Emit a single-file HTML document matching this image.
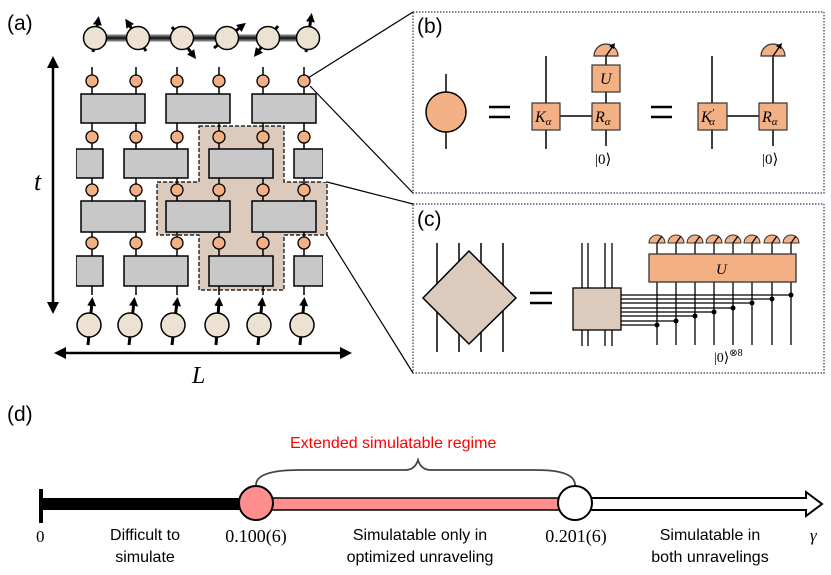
<!DOCTYPE html>
<html><head><meta charset="utf-8"><style>
html,body{margin:0;padding:0;background:#fff}
svg{display:block}
.s{font-family:"Liberation Sans",sans-serif}
.m{font-family:"Liberation Serif",serif;font-style:italic}
.r{font-family:"Liberation Serif",serif}
</style></head><body>
<svg width="831" height="575" viewBox="0 0 831 575" xmlns="http://www.w3.org/2000/svg">
<defs>
<marker id="ah" markerWidth="9" markerHeight="9" refX="4" refY="4.5" orient="auto" markerUnits="userSpaceOnUse" viewBox="0 0 9 9"><path d="M0,0 L9,4.5 L0,9 z" fill="#000"/></marker>
</defs>
<!-- (a) -->
<text x="7" y="30" class="s" font-size="21">(a)</text>
<line x1="95" y1="38" x2="308" y2="38" stroke="#777" stroke-width="7"/>
<line x1="95" y1="38" x2="308" y2="38" stroke="#222" stroke-width="3"/>
<g stroke="#000" stroke-width="3">
<line x1="93" y1="52" x2="98" y2="21" marker-end="url(#ah)"/>
<line x1="146" y1="51" x2="128" y2="23" marker-end="url(#ah)"/>
<line x1="172" y1="27" x2="193" y2="55" marker-end="url(#ah)"/>
<line x1="214" y1="48" x2="242" y2="26" marker-end="url(#ah)"/>
<line x1="278" y1="26" x2="257" y2="53" marker-end="url(#ah)"/>
<line x1="306" y1="52" x2="311" y2="18" marker-end="url(#ah)"/>
</g>
<g fill="#ede1d2" stroke="#000" stroke-width="1.5">
<circle cx="95" cy="38" r="11.5"/><circle cx="138" cy="38" r="11.5"/><circle cx="182" cy="38" r="11.5"/><circle cx="227" cy="38" r="11.5"/><circle cx="268" cy="38" r="11.5"/><circle cx="308" cy="38" r="11.5"/>
</g>
<path d="M199,126 H284 V182 H327 V235 H284 V290 H199 V235 H157 V182 H199 Z" fill="#dccbbd" stroke="#000" stroke-width="1.2" stroke-dasharray="4,2"/>
<g stroke="#000" stroke-width="1.5">
<line x1="92" y1="67" x2="92" y2="295"/><line x1="136" y1="67" x2="136" y2="295"/><line x1="177" y1="67" x2="177" y2="295"/><line x1="219" y1="67" x2="219" y2="295"/><line x1="263" y1="67" x2="263" y2="295"/><line x1="304" y1="67" x2="304" y2="295"/>
</g>
<g fill="#c8c8c8" stroke="#000" stroke-width="1.5">
<rect x="81" y="94" width="64" height="29"/><rect x="166" y="94" width="64" height="29"/><rect x="252" y="94" width="64" height="29"/>
<rect x="76" y="149" width="27" height="29"/><rect x="124" y="149" width="64" height="29"/><rect x="209" y="149" width="64" height="29"/><rect x="294" y="149" width="29" height="29"/>
<rect x="81" y="201" width="64" height="31"/><rect x="166" y="201" width="64" height="31"/><rect x="252" y="201" width="64" height="31"/>
<rect x="76" y="256" width="27" height="30"/><rect x="124" y="256" width="64" height="30"/><rect x="209" y="256" width="64" height="30"/><rect x="294" y="256" width="29" height="30"/>
</g>
<g fill="#fff"><rect x="70" y="145" width="6" height="40"/><rect x="323" y="145" width="3" height="37"/><rect x="70" y="252" width="6" height="40"/><rect x="323" y="252" width="8" height="40"/></g>
<g fill="#f3b085" stroke="#000" stroke-width="1.3">
<circle cx="92" cy="81" r="6"/><circle cx="136" cy="81" r="6"/><circle cx="177" cy="81" r="6"/><circle cx="219" cy="81" r="6"/><circle cx="263" cy="81" r="6"/><circle cx="304" cy="81" r="6"/>
<circle cx="92" cy="137" r="6"/><circle cx="136" cy="137" r="6"/><circle cx="177" cy="137" r="6"/><circle cx="219" cy="137" r="6"/><circle cx="263" cy="137" r="6"/><circle cx="304" cy="137" r="6"/>
<circle cx="92" cy="190" r="6"/><circle cx="136" cy="190" r="6"/><circle cx="177" cy="190" r="6"/><circle cx="219" cy="190" r="6"/><circle cx="263" cy="190" r="6"/><circle cx="304" cy="190" r="6"/>
<circle cx="92" cy="243" r="6"/><circle cx="136" cy="243" r="6"/><circle cx="177" cy="243" r="6"/><circle cx="219" cy="243" r="6"/><circle cx="263" cy="243" r="6"/><circle cx="304" cy="243" r="6"/>
</g>
<g stroke="#000" stroke-width="3">
<line x1="88" y1="345" x2="92" y2="302" marker-end="url(#ah)"/><line x1="129" y1="345" x2="134" y2="302" marker-end="url(#ah)"/><line x1="172" y1="345" x2="177" y2="302" marker-end="url(#ah)"/><line x1="216" y1="345" x2="219" y2="302" marker-end="url(#ah)"/><line x1="258" y1="345" x2="262" y2="302" marker-end="url(#ah)"/><line x1="300" y1="345" x2="304" y2="302" marker-end="url(#ah)"/>
</g>
<g fill="#ede1d2" stroke="#000" stroke-width="1.5">
<circle cx="89" cy="325" r="12"/><circle cx="130" cy="325" r="12"/><circle cx="173" cy="325" r="12"/><circle cx="217" cy="325" r="12"/><circle cx="259" cy="325" r="12"/><circle cx="302" cy="325" r="12"/>
</g>
<line x1="53" y1="66" x2="53" y2="304" stroke="#000" stroke-width="2.5"/>
<path d="M53,56 L47,68 L59,68 Z M53,314 L47,302 L59,302 Z"/>
<text x="34" y="190" class="m" font-size="26">t</text>
<line x1="64" y1="353" x2="342" y2="353" stroke="#000" stroke-width="2.5"/>
<path d="M54,353 L66,347 L66,359 Z M352,353 L340,347 L340,359 Z"/>
<text x="192" y="383" class="m" font-size="24">L</text>
<g stroke="#000" stroke-width="1.2">
<line x1="308" y1="78" x2="413" y2="12"/><line x1="310" y1="86" x2="413" y2="193"/>
<line x1="327" y1="182" x2="413" y2="204"/><line x1="327" y1="235" x2="413" y2="373"/>
</g>
<!-- (b) -->
<rect x="413" y="12" width="411" height="181" fill="none" stroke="#2a3a5a" stroke-width="1.2" stroke-dasharray="1.5,1.5"/>
<text x="417" y="33" class="s" font-size="21">(b)</text>
<line x1="446" y1="74" x2="446" y2="149" stroke="#000" stroke-width="1.5"/>
<circle cx="446" cy="112" r="20" fill="#f3b085" stroke="#000" stroke-width="1.5"/>
<g stroke="#000" stroke-width="2.5"><line x1="489" y1="107" x2="510" y2="107"/><line x1="489" y1="117" x2="510" y2="117"/><line x1="651" y1="107" x2="672" y2="107"/><line x1="651" y1="117" x2="672" y2="117"/></g>
<g stroke="#000" stroke-width="1.5">
<line x1="546" y1="56" x2="546" y2="149"/><line x1="560" y1="116" x2="592" y2="116"/><line x1="606" y1="52" x2="606" y2="146"/>
<line x1="712" y1="56" x2="712" y2="149"/><line x1="727" y1="116" x2="759" y2="116"/><line x1="773" y1="52" x2="773" y2="146"/>
</g>
<g fill="#f3b085" stroke="#333" stroke-width="1.2">
<rect x="532" y="103" width="28" height="27"/><rect x="592" y="103" width="28" height="27"/><rect x="592" y="65" width="28" height="27"/>
<rect x="698" y="103" width="29" height="27"/><rect x="759" y="103" width="28" height="27"/>
<path d="M594,56 A12,12 0 0 1 618,56 Z"/><path d="M761,56 A12,12 0 0 1 785,56 Z"/>
</g>
<g stroke="#000" stroke-width="1.3"><line x1="606" y1="56" x2="613" y2="46"/><line x1="773" y1="56" x2="780" y2="46"/></g>
<path d="M615,43 L609,46 L614,49 Z M782,43 L776,46 L781,49 Z"/>
<g class="m" font-size="16"><text x="535" y="122">K<tspan font-size="11" dy="3">α</tspan></text><text x="595" y="122">R<tspan font-size="11" dy="3">α</tspan></text><text x="600" y="84">U</text>
<text x="701" y="122">K<tspan font-size="11" dy="-6">′</tspan><tspan font-size="11" dx="-5" dy="9">α</tspan></text><text x="762" y="122">R<tspan font-size="11" dy="3">α</tspan></text></g>
<text x="595" y="164" class="r" font-size="15">|0⟩</text><text x="762" y="164" class="r" font-size="15">|0⟩</text>
<!-- (c) -->
<rect x="413" y="204" width="411" height="169" fill="none" stroke="#2a3a5a" stroke-width="1.2" stroke-dasharray="1.5,1.5"/>
<text x="417" y="226" class="s" font-size="21">(c)</text>
<g stroke="#000" stroke-width="1.5"><line x1="437" y1="243" x2="437" y2="352"/><line x1="459" y1="243" x2="459" y2="352"/><line x1="481" y1="243" x2="481" y2="352"/><line x1="503" y1="243" x2="503" y2="352"/></g>
<path d="M469,251 L516,298 L469,344 L423,298 Z" fill="#dccbbd" stroke="#000" stroke-width="1.5"/>
<g stroke="#000" stroke-width="2.5"><line x1="530" y1="293" x2="552" y2="293"/><line x1="530" y1="303" x2="552" y2="303"/></g>
<g stroke="#000" stroke-width="1.3"><line x1="582" y1="243" x2="582" y2="346"/><line x1="588" y1="243" x2="588" y2="346"/><line x1="605" y1="243" x2="605" y2="346"/><line x1="612" y1="243" x2="612" y2="346"/></g>
<rect x="573" y="288" width="48" height="42" fill="#dccbbd" stroke="#000" stroke-width="1.3"/>
<g stroke="#000" stroke-width="1.3">
<line x1="657" y1="240" x2="657" y2="345"/><line x1="676" y1="240" x2="676" y2="345"/><line x1="695" y1="240" x2="695" y2="345"/><line x1="714" y1="240" x2="714" y2="345"/><line x1="733" y1="240" x2="733" y2="345"/><line x1="752" y1="240" x2="752" y2="345"/><line x1="772" y1="240" x2="772" y2="345"/><line x1="791" y1="240" x2="791" y2="345"/>
<line x1="621" y1="295" x2="791" y2="295"/><line x1="621" y1="299" x2="772" y2="299"/><line x1="621" y1="303" x2="752" y2="303"/><line x1="621" y1="308" x2="733" y2="308"/><line x1="621" y1="312" x2="714" y2="312"/><line x1="621" y1="316" x2="695" y2="316"/><line x1="621" y1="321" x2="676" y2="321"/><line x1="621" y1="325" x2="657" y2="325"/>
</g>
<g fill="#000"><circle cx="791" cy="295" r="2.5"/><circle cx="772" cy="299" r="2.5"/><circle cx="752" cy="303" r="2.5"/><circle cx="733" cy="308" r="2.5"/><circle cx="714" cy="312" r="2.5"/><circle cx="695" cy="316" r="2.5"/><circle cx="676" cy="321" r="2.5"/><circle cx="657" cy="325" r="2.5"/></g>
<rect x="649" y="254" width="147" height="28" fill="#f3b085" stroke="#333" stroke-width="1.3"/>
<text x="716" y="274" class="m" font-size="15">U</text>
<g fill="#f3b085" stroke="#333" stroke-width="1">
<path d="M649,243 A8,8 0 0 1 665,243 Z"/><path d="M668,243 A8,8 0 0 1 684,243 Z"/><path d="M687,243 A8,8 0 0 1 703,243 Z"/><path d="M706,243 A8,8 0 0 1 722,243 Z"/><path d="M725,243 A8,8 0 0 1 741,243 Z"/><path d="M744,243 A8,8 0 0 1 760,243 Z"/><path d="M764,243 A8,8 0 0 1 780,243 Z"/><path d="M783,243 A8,8 0 0 1 799,243 Z"/>
</g>
<g stroke="#000" stroke-width="1.2"><line x1="657" y1="243" x2="662" y2="236"/><line x1="676" y1="243" x2="681" y2="236"/><line x1="695" y1="243" x2="700" y2="236"/><line x1="714" y1="243" x2="719" y2="236"/><line x1="733" y1="243" x2="738" y2="236"/><line x1="752" y1="243" x2="757" y2="236"/><line x1="772" y1="243" x2="777" y2="236"/><line x1="791" y1="243" x2="796" y2="236"/></g>
<text x="714" y="362" class="r" font-size="14">|0⟩<tspan font-size="10" dy="-6">⊗8</tspan></text>
<!-- (d) -->
<text x="7" y="421" class="s" font-size="21">(d)</text>
<text x="290" y="448" class="s" font-size="16" fill="#ff0000">Extended simulatable regime</text>
<path d="M256,485 Q256,470 300,470 L405,470 Q415,470 418,460 Q421,470 431,470 L536,470 Q575,470 575,485" fill="none" stroke="#444" stroke-width="1.8"/>
<line x1="41" y1="489" x2="41" y2="523" stroke="#000" stroke-width="4"/>
<rect x="41" y="498" width="215" height="12" fill="#000"/>
<rect x="256" y="498" width="319" height="12" fill="#ff8e8e" stroke="#000" stroke-width="1.5"/>
<path d="M575,498 H806 V492 L822,504 L806,516 V510 H575 Z" fill="#fff" stroke="#000" stroke-width="2"/>
<circle cx="256" cy="503" r="17" fill="#ff8e8e" stroke="#000" stroke-width="2"/>
<circle cx="575" cy="503" r="17" fill="#fff" stroke="#000" stroke-width="2"/>
<text x="36" y="542" class="r" font-size="17">0</text>
<text x="145" y="540" class="s" font-size="16" text-anchor="middle">Difficult to</text>
<text x="145" y="562" class="s" font-size="16" text-anchor="middle">simulate</text>
<text x="256" y="542" class="r" font-size="18" text-anchor="middle">0.100(6)</text>
<text x="420" y="540" class="s" font-size="16" text-anchor="middle">Simulatable only in</text>
<text x="420" y="562" class="s" font-size="16" text-anchor="middle">optimized unraveling</text>
<text x="576" y="542" class="r" font-size="18" text-anchor="middle">0.201(6)</text>
<text x="710" y="540" class="s" font-size="16" text-anchor="middle">Simulatable in</text>
<text x="710" y="562" class="s" font-size="16" text-anchor="middle">both unravelings</text>
<text x="810" y="541" class="m" font-size="17">γ</text>
</svg>
</body></html>
